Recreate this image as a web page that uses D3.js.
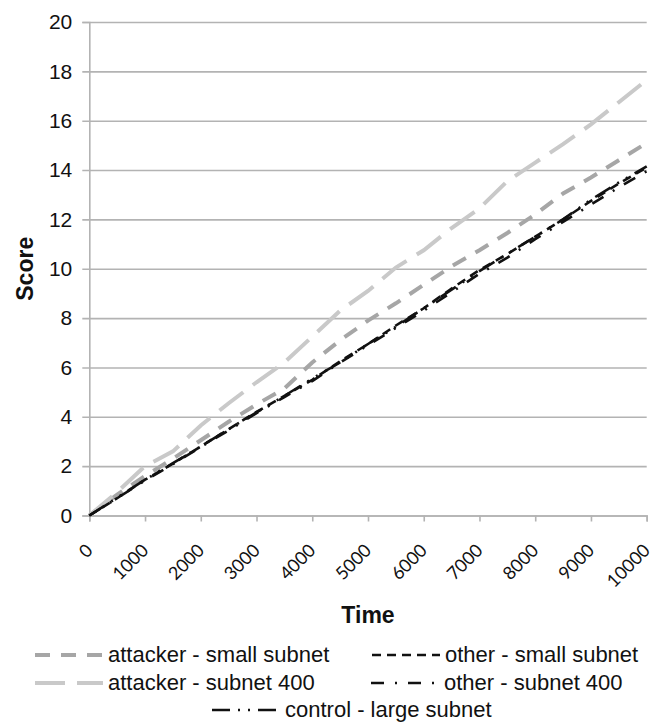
<!DOCTYPE html>
<html><head><meta charset="utf-8">
<script src="https://cdn.jsdelivr.net/npm/d3@7"></script>
<style>body{margin:0;background:#fff}svg{display:block}</style>
</head><body><svg id="c" width="662" height="723"></svg>
<script>
const times = [0,500,1000,1500,2000,2500,3000,3500,4000,4500,5000,5500,6000,6500,7000,7500,8000,8500,9000,9500,10000];
const attackerSmall = [0,0.85,1.6,2.3,3.05,3.8,4.5,5.15,6.2,7.1,7.9,8.6,9.35,10.1,10.75,11.45,12.2,13.05,13.7,14.4,15.1];
const attacker400   = [0,0.95,2.0,2.6,3.65,4.55,5.4,6.2,7.25,8.3,9.1,10.05,10.75,11.65,12.45,13.55,14.3,15.05,15.85,16.75,17.65];
const otherSmall    = [0,0.7,1.45,2.1,2.8,3.5,4.2,4.85,5.5,6.25,6.95,7.7,8.4,9.2,9.95,10.6,11.3,12.0,12.75,13.45,14.1];
const other400      = [0,0.7,1.42,2.08,2.78,3.45,4.15,4.8,5.45,6.2,6.9,7.6,8.3,9.05,9.8,10.45,11.2,11.9,12.6,13.3,13.95];
const controlLarge  = [0,0.72,1.45,2.12,2.8,3.5,4.18,4.85,5.55,6.2,6.95,7.65,8.4,9.15,9.9,10.6,11.3,12.0,12.8,13.5,14.15];
const seriesNames = ["attacker - small subnet","other - small subnet","attacker - subnet 400","other - subnet 400","control - large subnet"];
const xTicks = [0,1000,2000,3000,4000,5000,6000,7000,8000,9000,10000];
const yTicks = [0,2,4,6,8,10,12,14,16,18,20];

const styles = {
  "attacker - small subnet": {c:"#a6a6a6", w:4, d:"15,11"},
  "attacker - subnet 400":   {c:"#c9c9c9", w:4, d:"30,12"},
  "other - small subnet":    {c:"#111", w:2.6, d:"9,6"},
  "other - subnet 400":      {c:"#111", w:2.6, d:"13,11,2,11"},
  "control - large subnet":  {c:"#111", w:2.6, d:"18,8,2,8,2,8"}
};
const valuesByName = {
  "attacker - small subnet": attackerSmall,
  "attacker - subnet 400": attacker400,
  "other - small subnet": otherSmall,
  "other - subnet 400": other400,
  "control - large subnet": controlLarge
};

const svg = d3.select("#c");
const L=89.3, R=646.7, T=22, B=515.5;
const x = d3.scaleLinear().domain([0,10000]).range([L,R]);
const y = d3.scaleLinear().domain([0,20]).range([B,T]);
const grid = "#b3b3b3";

// gridlines + y ticks
const yAxis = svg.append("g").attr("transform",`translate(${L},0)`)
  .call(d3.axisLeft(y).tickValues(yTicks).tickSize(7).tickPadding(10).tickFormat(d3.format("d")));
yAxis.select(".domain").attr("stroke",grid).attr("stroke-width",1.6);
yAxis.selectAll(".tick line").attr("stroke",grid).attr("stroke-width",1.6).attr("x2",R-L);
yAxis.selectAll(".tick line").attr("x1",-7);
yAxis.selectAll(".tick text").attr("font-family","'Liberation Sans', Arial, sans-serif").attr("font-size",21).attr("fill","#111");

const xAxis = svg.append("g").attr("transform",`translate(0,${B})`)
  .call(d3.axisBottom(x).tickValues(xTicks).tickSize(6).tickFormat(d3.format("d")));
xAxis.select(".domain").attr("stroke",grid).attr("stroke-width",1.6);
xAxis.selectAll(".tick line").attr("stroke",grid).attr("stroke-width",1.6);
xAxis.selectAll(".tick text")
  .attr("font-family","Lato, 'Open Sans', sans-serif").attr("font-size",18).attr("fill","#111")
  .attr("text-anchor","end").attr("dy",0).attr("y",0)
  .attr("transform","translate(4,36) rotate(-45)");

// lines
const line = d3.line().x((d,i)=>x(times[i])).y(d=>y(d));
const drawOrder = ["attacker - small subnet","attacker - subnet 400","other - small subnet","other - subnet 400","control - large subnet"];
drawOrder.forEach(n=>{
  const s=styles[n];
  svg.append("path").datum(valuesByName[n]).attr("d",line)
    .attr("fill","none").attr("stroke",s.c).attr("stroke-width",s.w).attr("stroke-dasharray",s.d);
});

// axis titles
svg.append("text").attr("x",(L+R)/2).attr("y",623).attr("text-anchor","middle")
  .attr("font-family","'Liberation Sans', Arial, sans-serif").attr("font-weight","bold").attr("font-size",23).attr("fill","#111").text("Time");
svg.append("text").attr("transform",`translate(33,${(T+B)/2}) rotate(-90)`).attr("text-anchor","middle")
  .attr("font-family","'Liberation Sans', Arial, sans-serif").attr("font-weight","bold").attr("font-size",23).attr("fill","#111").text("Score");

// legend
const legendPos = [
  {n:seriesNames[0], tx:108, by:662},
  {n:seriesNames[1], tx:445, by:662},
  {n:seriesNames[2], tx:108, by:690},
  {n:seriesNames[3], tx:444, by:690},
  {n:seriesNames[4], tx:285, by:717}
];
legendPos.forEach(p=>{
  const s=styles[p.n];
  svg.append("line").attr("x1",p.tx-73).attr("x2",p.tx-5).attr("y1",p.by-7).attr("y2",p.by-7)
    .attr("stroke",s.c).attr("stroke-width",s.w).attr("stroke-dasharray",s.d);
  svg.append("text").attr("x",p.tx).attr("y",p.by)
    .attr("font-family","'Liberation Sans', Arial, sans-serif").attr("font-size",22).attr("fill","#111").text(p.n);
});
</script></body></html>
